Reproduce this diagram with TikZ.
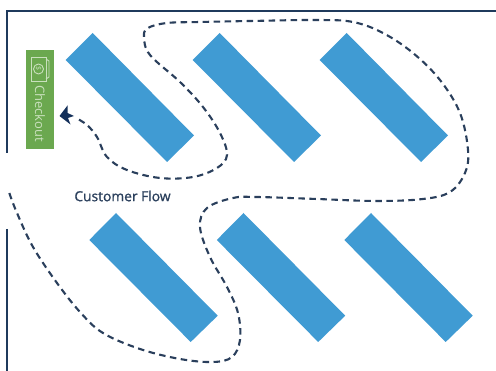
\documentclass[tikz,border=0pt]{standalone}
\usepackage{fontspec}
\setmainfont{Open Sans}
\usetikzlibrary{arrows.meta}
\definecolor{wallc}{HTML}{1F3A5C}
\definecolor{shelfc}{HTML}{409BD3}
\definecolor{greenc}{HTML}{6BA84F}
\definecolor{flowc}{HTML}{2A3F5C}
\definecolor{iconc}{HTML}{C9E0BD}
\definecolor{tipc}{HTML}{14305A}
\tikzset{
  wall/.style={draw=wallc,line width=2pt},
  shelf/.style={fill=shelfc,draw=none},
  flow/.style={draw=flowc,line width=2.1pt,dash pattern=on 6.5pt off 4.5pt},
  iconline/.style={draw=iconc,line width=0.9pt}
}
\begin{document}
\begin{tikzpicture}[x=1pt,y=-1pt]
\useasboundingbox (0,0) rectangle (496,371);
\fill[white] (0,0) rectangle (496,371);
% walls
\draw[wall] (7,153) -- (7,11) -- (496,11);
\draw[wall] (7,229) -- (7,371);
% shelves
\foreach \dx in {0,127,254}{
  \fill[shelf] (92.7+\dx,33) -- (194+\dx,135.5) -- (167+\dx,162) -- (65.7+\dx,60) -- cycle;
}
\foreach \dx in {0,127.5,255}{
  \fill[shelf] (116+\dx,213) -- (217.7+\dx,315.7) -- (190.7+\dx,342) -- (89.3+\dx,240) -- cycle;
}
% checkout
\fill[greenc] (26,50) rectangle (54,149);
\draw[iconline] (31,57) rectangle (46,81);
\draw[iconline] (46,59) -- (49,61) -- (49,77) -- (46,79);
\draw[iconline] (38.5,69) circle (5);
\node[text=iconc,font=\fontsize{7}{7}\selectfont,rotate=-90,inner sep=0pt] (dollar) at (38.5,69) {\$};
\node[text=iconc,font=\fontsize{13}{13}\selectfont,rotate=-90,inner sep=0pt] (checkout) at (40,113.5) {Checkout};
% label
\node[text=flowc,font=\fontsize{13.8}{14}\selectfont,inner sep=0pt] (label) at (122.5,196) {\addfontfeature{FakeBold=1}Customer Flow};
% flow path
\draw[flow] plot[smooth,tension=0.6] coordinates {
 (9.3,193) (17,213) (33,247) (57,283) (80,312) (103,333) (140,349) (180,359) (213,362)
 (232,357) (240,340) (238,313) (227,287) (210,257) (200,227) (207,208) (233,198) (257,197)
 (317,199) (377,201) (423,199) (450,192) (465,173) (468,150) (460,113) (440,80) (413,53)
 (383,33) (353,22) (317,20) (250,21) (200,22) (167,23) (148,28) (144,37) (150,55) (180,82)
 (203,107) (220,133) (227,155) (217,168) (193,177) (160,178) (127,170) (107,157) (97,137)
 (87,125) (76,118)};
\fill[tipc] (59.5,116) -- (67.5,105.5) -- (67.5,113) -- (74,116) -- (68,118) -- (70.5,124.5) -- cycle;
\end{tikzpicture}
\end{document}
